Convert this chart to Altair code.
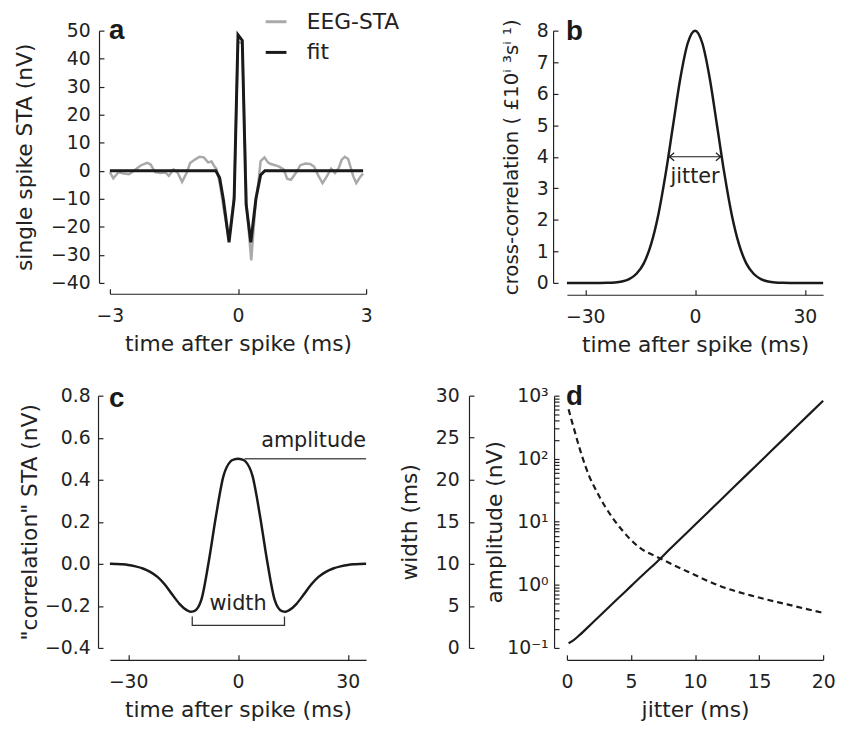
import altair as alt
import pandas as pd

FONT = "DejaVu Sans"
INK = "#1a1a1a"
GRAY = "#a9a9a9"
W, H = 259, 255

# ---------------- panel a: single spike STA ----------------
eeg_t = [-3.00, -2.92, -2.80, -2.68, -2.55, -2.40, -2.28, -2.13, -2.05, -1.94, -1.82, -1.70,
         -1.62, -1.51, -1.42, -1.31, -1.20, -1.12, -1.01, -0.90, -0.80, -0.70, -0.62, -0.55,
         -0.50, -0.42, -0.33, -0.21, -0.09, 0.00, 0.10, 0.20, 0.31, 0.42, 0.47, 0.53, 0.62,
         0.70, 0.77, 0.87, 0.96, 1.07, 1.15, 1.24, 1.35, 1.46, 1.58, 1.69, 1.78, 1.89, 1.98,
         2.08, 2.18, 2.27, 2.36, 2.43, 2.50, 2.58, 2.70, 2.77, 2.87, 2.93]
eeg_v = [-0.5, -2.7, -0.5, -1.0, -1.2, 0.5, 1.9, 2.8, 2.3, -0.5, -0.8, -0.6,
         -1.8, 0.5, -0.5, -4.0, -0.6, 2.8, 4.0, 5.0, 4.8, 3.0, 3.3, 1.5,
         0.5, -5.0, -14.0, -24.5, -9.0, 46.0, 45.5, -12.0, -32.0, -10.0, -5.0, 3.5, 4.8,
         3.0, 2.4, 2.0, 1.5, 0.5, -2.8, -3.2, -0.9, 2.0, 2.6, 2.4, 1.5, -2.0, -4.4,
         -2.0, 0.8, -0.8, 1.0, 4.0, 5.0, 4.2, -2.0, -4.4, -2.0, -1.0]
fit_t = [-3.00, -0.52, -0.43, -0.34, -0.21, -0.09, 0.00, 0.10, 0.19, 0.30, 0.42, 0.53, 0.63, 2.93]
fit_v = [0.0, 0.0, -2.5, -10.5, -25.5, -10.0, 48.5, 46.5, -12.0, -25.5, -10.0, -1.5, 0.0, 0.0]
series_names = ["EEG-STA", "fit"]
a_xticks = [-3, 0, 3]
a_yticks = [-40, -30, -20, -10, 0, 10, 20, 30, 40, 50]

# ---------------- panel b: cross-correlation ----------------
b_t = [-35, -30, -26, -24, -22, -20, -18, -16, -14, -12, -10, -8, -6, -4, -2, 0,
       2, 4, 6, 8, 10, 12, 14, 16, 18, 20, 22, 24, 26, 30, 35]
b_v = [0.0, 0.0, 0.0, 0.004, 0.014, 0.044, 0.12, 0.29, 0.62, 1.23, 2.18, 3.48, 5.0, 6.5, 7.6, 8.0,
       7.6, 6.5, 5.0, 3.48, 2.18, 1.23, 0.62, 0.29, 0.12, 0.044, 0.014, 0.004, 0.0, 0.0, 0.0]
b_xticks = [-30, 0, 30]
b_yticks = [0, 1, 2, 3, 4, 5, 6, 7, 8]
jitter_arrow_t = [-7.0, 7.0]
jitter_arrow_v = [4.0, 4.0]
jitter_text = ["jitter"]
jitter_text_t = [0.0]
jitter_text_v = [3.35]

# ---------------- panel c: "correlation" STA ----------------
c_t = [-35, -32, -30, -28, -26, -24, -22, -20, -18, -16, -14, -13, -12, -10, -8, -6, -4, -2, -1, 0,
       1, 2, 4, 6, 8, 10, 12, 13, 14, 16, 18, 20, 22, 24, 26, 28, 30, 32, 35]
c_v = [0.0, -0.002, -0.005, -0.012, -0.022, -0.038, -0.062, -0.098, -0.145, -0.19, -0.22, -0.228,
       -0.225, -0.17, 0.01, 0.229, 0.416, 0.488, 0.497, 0.5,
       0.497, 0.488, 0.416, 0.229, 0.01, -0.17, -0.225, -0.228, -0.22, -0.19, -0.145, -0.098,
       -0.062, -0.038, -0.022, -0.012, -0.005, -0.002, 0.0]
c_yticks = [-0.4, -0.2, 0.0, 0.2, 0.4, 0.6, 0.8]
amp_line_t = [1.8, 35.0]
amp_line_v = [0.5, 0.5]
amp_text_t = [35.0]
amp_text_v = [0.585]
bracket_t = [-12.5, -12.5, 12.7, 12.7]
bracket_v = [-0.25, -0.293, -0.293, -0.25]
width_text_t = [0.0]
width_text_v = [-0.19]

# ---------------- panel d: width / amplitude vs jitter ----------------
d_j_w = [0.13, 0.5, 1, 2, 3, 4, 5, 6, 7, 8, 10, 12, 14, 16, 18, 20]
d_w = [0.56, 0.9, 1.55, 3.0, 4.45, 5.9, 7.35, 8.8, 10.2, 11.7, 14.65, 17.6, 20.55, 23.5, 26.45, 29.4]
d_j_a = [0.13, 0.31, 0.56, 0.95, 1.22, 1.72, 2.26, 3.0, 4.3, 5.6, 7.26, 9.4, 12.0, 14.6, 17.2, 20.0]
d_a = [608, 445, 295, 155, 104, 54, 32, 17.2, 7.4, 4.0, 2.64, 1.63, 0.95, 0.66, 0.49, 0.36]
d_xticks = [0, 5, 10, 15, 20]
d_wticks = [0, 5, 10, 15, 20, 25, 30]
d_aticks = [m * p for p in [0.1, 1, 10, 100] for m in range(1, 10)] + [1000]
d_alabels = ("datum.value == 0.1 ? '10\u207b\u00b9' : datum.value == 1 ? '10\u2070' : "
             "datum.value == 10 ? '10\u00b9' : datum.value == 100 ? '10\u00b2' : "
             "datum.value == 1000 ? '10\u00b3' : ''")

panel_letters = ["a", "b", "c", "d"]

TICK = 5


def panel_label(letter, ypix):
    return alt.Chart(pd.DataFrame({"lab": [letter]})).mark_text(
        font="Liberation Sans", fontSize=28, fontWeight="bold", align="left",
        baseline="alphabetic", color=INK
    ).encode(text="lab:N", x=alt.value(-1), y=alt.value(ypix))


def xaxis(vals, title, offset):
    return alt.Axis(values=vals, orient="bottom", offset=offset, title=title, labelFlush=False,
                    ticks=False, labelPadding=13, titlePadding=8)


def yaxis(vals, title, offset, lp, tp, **kw):
    return alt.Axis(values=vals, orient="left", offset=offset, title=title, ticks=False,
                    labelPadding=lp, titlePadding=tp, **kw)


def inward_x(vals, offset):
    # tick marks only, drawn from the bottom axis line up into the plot
    return alt.Axis(values=vals, orient="top", offset=-(H + offset), labels=False,
                    domain=False, title=None, ticks=True, tickSize=TICK)


def inward_y(vals, offset):
    # tick marks only, drawn from the left axis line into the plot
    return alt.Axis(values=vals, orient="right", offset=-(W + offset), labels=False,
                    domain=False, title=None, ticks=True, tickSize=TICK)


# ---- panel a ----
df_eeg = pd.DataFrame({"t": eeg_t, "v": eeg_v, "series": series_names[0]})
df_fit = pd.DataFrame({"t": fit_t, "v": fit_v, "series": series_names[1]})
sxa = alt.Scale(domain=[-3, 3], nice=False)
sya = alt.Scale(domain=[-40, 50], nice=False)
xa = alt.X("t:Q", scale=sxa, axis=xaxis(a_xticks, "time after spike (ms)", 11))
ya = alt.Y("v:Q", scale=sya, axis=yaxis(a_yticks, "single spike STA (nV)", 11, 9, 14))
xa0 = alt.X("t:Q", scale=sxa, axis=None)
ya0 = alt.Y("v:Q", scale=sya, axis=None)
col = alt.Color("series:N",
                scale=alt.Scale(domain=series_names, range=[GRAY, INK]),
                legend=alt.Legend(title=None, orient="none", legendX=156, legendY=-21,
                                  symbolType="stroke", symbolSize=441, symbolStrokeWidth=3,
                                  labelFontSize=22, labelFont=FONT, labelColor="#222",
                                  labelOffset=19, rowPadding=8))
a_eeg = alt.Chart(df_eeg).mark_line(strokeWidth=2.5).encode(x=xa, y=ya, color=col)
a_fit = alt.Chart(df_fit).mark_line(strokeWidth=3).encode(x=xa0, y=ya0, color=col)
a_ticks = alt.Chart(df_fit).mark_point(opacity=0).encode(
    x=alt.X("t:Q", scale=sxa, axis=inward_x(a_xticks, 11)),
    y=alt.Y("v:Q", scale=sya, axis=inward_y(a_yticks, 11)))
panel_a = alt.layer(a_eeg, a_fit, a_ticks, panel_label(panel_letters[0], 8)).properties(width=W, height=H)

# ---- panel b ----
df_b = pd.DataFrame({"t": b_t, "v": b_v})
sxb = alt.Scale(domain=[-35, 35], nice=False)
syb = alt.Scale(domain=[0, 8], nice=False)
xb = alt.X("t:Q", scale=sxb, axis=xaxis(b_xticks, "time after spike (ms)", 12))
yb = alt.Y("v:Q", scale=syb,
           axis=yaxis(b_yticks, "cross-correlation ( \u00a310\u2071 \u00b3s\u2071 \u00b9)", 14, 5, 15,
                      titleFontSize=20))
xb0 = alt.X("t:Q", scale=sxb, axis=None)
yb0 = alt.Y("v:Q", scale=syb, axis=None)
b_curve = alt.Chart(df_b).mark_line(color=INK, strokeWidth=2.5, interpolate="monotone").encode(x=xb, y=yb)
df_arrow = pd.DataFrame({"t": jitter_arrow_t, "v": jitter_arrow_v})
b_arrow = alt.Chart(df_arrow).mark_line(color=INK, strokeWidth=1.2).encode(x=xb0, y=yb0)
df_tipl = pd.DataFrame({"t": [jitter_arrow_t[0]], "v": [jitter_arrow_v[0]]})
df_tipr = pd.DataFrame({"t": [jitter_arrow_t[1]], "v": [jitter_arrow_v[1]]})
b_tipl = alt.Chart(df_tipl).mark_point(shape="M1.2,-1L0,0L1.2,1", size=64, filled=False,
                                        color=INK, strokeWidth=1.2, opacity=1).encode(x=xb0, y=yb0)
b_tipr = alt.Chart(df_tipr).mark_point(shape="M-1.2,-1L0,0L-1.2,1", size=64, filled=False,
                                        color=INK, strokeWidth=1.2, opacity=1).encode(x=xb0, y=yb0)
df_jt = pd.DataFrame({"t": jitter_text_t, "v": jitter_text_v, "txt": jitter_text})
b_text = alt.Chart(df_jt).mark_text(font=FONT, fontSize=21, color="#222", baseline="middle").encode(
    x=xb0, y=yb0, text="txt:N")
b_ticks = alt.Chart(df_b).mark_point(opacity=0).encode(
    x=alt.X("t:Q", scale=sxb, axis=inward_x(b_xticks, 12)),
    y=alt.Y("v:Q", scale=syb, axis=inward_y(b_yticks, 14)))
panel_b = alt.layer(b_curve, b_arrow, b_tipl, b_tipr, b_text, b_ticks,
                    panel_label(panel_letters[1], 9)).properties(width=W, height=H)

# ---- panel c ----
df_c = pd.DataFrame({"t": c_t, "v": c_v})
syc = alt.Scale(domain=[-0.4, 0.8], nice=False)
xc = alt.X("t:Q", scale=sxb, axis=xaxis(b_xticks, "time after spike (ms)", 12))
yc = alt.Y("v:Q", scale=syc,
           axis=yaxis(c_yticks, '"correlation" STA (nV)', 12, 8, 3, format=".1f"))
xc0 = alt.X("t:Q", scale=sxb, axis=None)
yc0 = alt.Y("v:Q", scale=syc, axis=None)
c_curve = alt.Chart(df_c).mark_line(color=INK, strokeWidth=2.5, interpolate="monotone").encode(x=xc, y=yc)
c_amp = alt.Chart(pd.DataFrame({"t": amp_line_t, "v": amp_line_v})).mark_line(
    color="#555555", strokeWidth=1.5).encode(x=xc0, y=yc0)
c_amp_txt = alt.Chart(pd.DataFrame({"t": amp_text_t, "v": amp_text_v, "txt": ["amplitude"]})).mark_text(
    font=FONT, fontSize=21, color="#222", align="right", baseline="middle").encode(x=xc0, y=yc0, text="txt:N")
c_br = alt.Chart(pd.DataFrame({"t": bracket_t, "v": bracket_v, "o": [0, 1, 2, 3]})).mark_line(
    color="#333333", strokeWidth=1.3).encode(x=xc0, y=yc0, order="o:Q")
c_w_txt = alt.Chart(pd.DataFrame({"t": width_text_t, "v": width_text_v, "txt": ["width"]})).mark_text(
    font=FONT, fontSize=21, color="#222", baseline="middle").encode(x=xc0, y=yc0, text="txt:N")
c_ticks = alt.Chart(df_c).mark_point(opacity=0).encode(
    x=alt.X("t:Q", scale=sxb, axis=inward_x(b_xticks, 12)),
    y=alt.Y("v:Q", scale=syc, axis=inward_y(c_yticks, 12)))
panel_c = alt.layer(c_curve, c_amp, c_br, c_amp_txt, c_w_txt, c_ticks,
                    panel_label(panel_letters[2], 11)).properties(width=W, height=H)

# ---- panel d ----
sxd = alt.Scale(domain=[0, 20], nice=False)
swd = alt.Scale(domain=[0, 30], nice=False)
sad = alt.Scale(type="log", domain=[0.1, 1000], nice=False)
df_dw = pd.DataFrame({"j": d_j_w, "w": d_w})
df_da = pd.DataFrame({"j": d_j_a, "a": d_a})
xd = alt.X("j:Q", scale=sxd, axis=xaxis(d_xticks, "jitter (ms)", 12))
d_width = alt.Chart(df_dw).mark_line(
    color=INK, strokeWidth=2.2, interpolate="monotone").encode(
    x=xd,
    y=alt.Y("w:Q", scale=swd,
            axis=yaxis(d_wticks, "width (ms)", 99, 10, 14)))
d_width_ticks = alt.Chart(df_dw).mark_point(opacity=0).encode(
    x=alt.X("j:Q", scale=sxd, axis=inward_x(d_xticks, 12)),
    y=alt.Y("w:Q", scale=swd, axis=inward_y(d_wticks, 99)))
d_amp = alt.Chart(df_da).mark_line(
    color=INK, strokeWidth=2.2, strokeDash=[6, 4], interpolate="monotone").encode(
    x=alt.X("j:Q", scale=sxd, axis=None),
    y=alt.Y("a:Q", scale=sad,
            axis=yaxis(d_aticks, "amplitude (nV)", 13, 6, 0,
                       labelExpr=d_alabels, labelOverlap=False)))
d_amp_ticks = alt.Chart(df_da).mark_point(opacity=0).encode(
    x=alt.X("j:Q", scale=sxd, axis=None),
    y=alt.Y("a:Q", scale=sad, axis=inward_y(d_aticks, 13)))
panel_d = alt.layer(alt.layer(d_width, d_width_ticks), alt.layer(d_amp, d_amp_ticks),
                    panel_label(panel_letters[3], 9)).resolve_scale(
    y="independent").properties(width=W, height=H)

chart = alt.concat(panel_a, panel_b, panel_c, panel_d, columns=2,
                   spacing={"row": 114, "column": 203}, bounds="flush").configure_axis(
    grid=False, domainColor="#222", tickColor="#222", domainWidth=1.2, tickWidth=1.2,
    labelFont=FONT, labelFontSize=19, labelColor="#222",
    titleFont=FONT, titleFontSize=22, titleFontWeight="normal", titleColor="#222"
).configure_view(stroke=None).properties(
    padding={"left": 5, "top": -2, "right": 0, "bottom": 0})

chart.save("out.html", embed_options={"renderer": "svg", "actions": False})
